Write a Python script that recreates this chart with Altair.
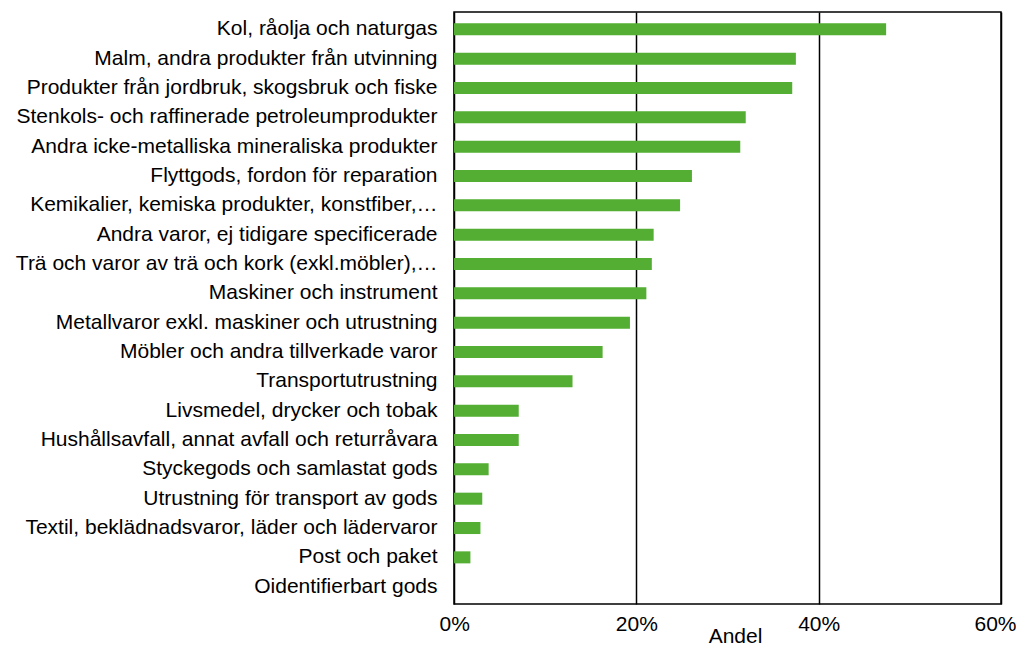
import altair as alt
import pandas as pd

categories = [
    "Kol, råolja och naturgas",
    "Malm, andra produkter från utvinning",
    "Produkter från jordbruk, skogsbruk och fiske",
    "Stenkols- och raffinerade petroleumprodukter",
    "Andra icke-metalliska mineraliska produkter",
    "Flyttgods, fordon för reparation",
    "Kemikalier, kemiska produkter, konstfiber,…",
    "Andra varor, ej tidigare specificerade",
    "Trä och varor av trä och kork (exkl.möbler),…",
    "Maskiner och instrument",
    "Metallvaror exkl. maskiner och utrustning",
    "Möbler och andra tillverkade varor",
    "Transportutrustning",
    "Livsmedel, drycker och tobak",
    "Hushållsavfall, annat avfall och returråvara",
    "Styckegods och samlastat gods",
    "Utrustning för transport av gods",
    "Textil, beklädnadsvaror, läder och lädervaror",
    "Post och paket",
    "Oidentifierbart gods",
]
shares_pct = [47.4, 37.5, 37.1, 32.0, 31.4, 26.1, 24.8, 21.9, 21.7, 21.1,
              19.3, 16.3, 13.0, 7.1, 7.1, 3.8, 3.1, 2.9, 1.8, 0.0]
x_ticks = [0, 0.2, 0.4, 0.6]

df = pd.DataFrame({"kategori": categories, "andel": [v / 100 for v in shares_pct]})

FONT = "Liberation Sans"

chart = alt.Chart(df).mark_bar(color="#53ae33").encode(
    x=alt.X(
        "andel:Q",
        scale=alt.Scale(domain=[0, 0.6], nice=False, zero=True),
        axis=alt.Axis(
            values=x_ticks, format=".0%", title="Andel",
            grid=True, gridColor="black", gridWidth=1.5, gridOpacity=1,
            domain=False, ticks=False, tickSize=0, labelPadding=9,
            labelFontSize=21, labelColor="black",
            labelFlush=True, labelFlushOffset=15,
            titleFontSize=21, titleFontWeight="normal", titleColor="black",
            titleX=281, titleY=38, titleBaseline="alphabetic", titleAlign="center",
        ),
    ),
    y=alt.Y(
        "kategori:N", sort=categories,
        scale=alt.Scale(paddingInner=0.59, paddingOuter=0.385),
        axis=alt.Axis(
            title=None, domain=False, ticks=False, tickSize=0, labelPadding=17,
            labelLimit=700, labelFontSize=21, labelColor="black", grid=False,
        ),
    ),
).properties(
    width=547, height=592,
    padding={"left": 446, "top": 4, "right": 15, "bottom": 41},
    autosize=alt.AutoSizeParams(type="none"),
).configure(font=FONT).configure_view(stroke="black", strokeWidth=1.5)

chart.save("out.html", embed_options={"renderer": "svg", "actions": False})
